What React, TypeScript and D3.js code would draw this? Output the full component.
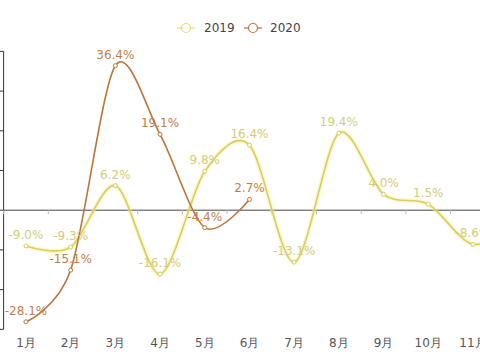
import * as d3 from "d3";

const months = ["1月", "2月", "3月", "4月", "5月", "6月", "7月", "8月", "9月", "10月", "11月", "12月"];
const series2019 = [-9.0, -9.3, 6.2, -16.1, 9.8, 16.4, -13.1, 19.4, 4.0, 1.5, -8.6, -3.0];
const series2020 = [-28.1, -15.1, 36.4, 19.1, -4.4, 2.7];
const yTicks = [-30, -20, -10, 0, 10, 20, 30, 40];

const color2019 = "#dccd58";
const label2019 = "#d6cc78";
const color2020 = "#b9763c";
const label2020 = "#c07e4a";

export default function App() {
  const width = 480;
  const height = 360;
  const plotLeft = 3.6;
  const plotRight = plotLeft + 12 * 44.7;

  const x = d3.scaleBand<string>().domain(months).range([plotLeft, plotRight]);
  const cx = (m: string) => (x(m) ?? 0) + x.bandwidth() / 2;
  const y = d3.scaleLinear().domain([-30, 40]).range([329.3, 51.4]);

  const line = d3
    .line<number>()
    .x((_, i) => cx(months[i]))
    .y((d) => y(d))
    .curve(d3.curveCardinal.tension(0.1));

  const fmt = (v: number) => `${v.toFixed(1)}%`;

  return (
    <svg
      width={width}
      height={height}
      style={{ position: "absolute", left: 0, top: 0, background: "#fff" }}
      fontFamily="DejaVu Sans, sans-serif"
    >
      {/* legend */}
      <g fontSize={12} fill="#444">
        <line x1={177} x2={195} y1={28} y2={28} stroke={color2019} strokeWidth={1.5} opacity={0.6} />
        <circle cx={186} cy={28} r={4.5} fill="#fff" stroke={color2019} strokeWidth={1.2} opacity={0.7} />
        <text x={204} y={32}>2019</text>
        <line x1={244} x2={262} y1={28} y2={28} stroke={color2020} strokeWidth={1.5} opacity={0.8} />
        <circle cx={253} cy={28} r={4.5} fill="#fff" stroke={color2020} strokeWidth={1.2} />
        <text x={270} y={32}>2020</text>
      </g>

      {/* y axis */}
      <line x1={plotLeft} x2={plotLeft} y1={y(40)} y2={y(-30)} stroke="#333" strokeWidth={1} />
      {yTicks.map((t) => (
        <line key={t} x1={plotLeft - 5} x2={plotLeft} y1={y(t)} y2={y(t)} stroke="#333" />
      ))}

      {/* x axis on zero */}
      <line x1={plotLeft} x2={plotRight} y1={y(0)} y2={y(0)} stroke="#444" strokeWidth={1} />
      {months.map((m) => (
        <line key={m} x1={x(m)} x2={x(m)} y1={y(0)} y2={y(0) + 4} stroke="#bbb" />
      ))}
      {months.map((m) => (
        <text key={m} x={cx(m)} y={347} textAnchor="middle" fontSize={12} fill="#555">
          {m}
        </text>
      ))}

      {/* 2019 with glow */}
      <path d={line(series2019) ?? ""} fill="none" stroke="#f3ea9a" strokeWidth={4.5} opacity={0.4} />
      <path d={line(series2019) ?? ""} fill="none" stroke={color2019} strokeWidth={1.6} />
      {series2019.map((v, i) => (
        <circle key={i} cx={cx(months[i])} cy={y(v)} r={2} fill="#fff" stroke={color2019} />
      ))}

      {/* 2020 */}
      <path d={line(series2020) ?? ""} fill="none" stroke={color2020} strokeWidth={1.6} />
      {series2020.map((v, i) => (
        <circle key={i} cx={cx(months[i])} cy={y(v)} r={2} fill="#fff" stroke={color2020} />
      ))}

      {/* labels */}
      {series2019.map((v, i) => (
        <text key={i} x={cx(months[i])} y={y(v) - 7} textAnchor="middle" fontSize={12} fill={label2019}>
          {fmt(v)}
        </text>
      ))}
      {series2020.map((v, i) => (
        <text key={i} x={cx(months[i])} y={y(v) - 7} textAnchor="middle" fontSize={12} fill={label2020}>
          {fmt(v)}
        </text>
      ))}
    </svg>
  );
}
